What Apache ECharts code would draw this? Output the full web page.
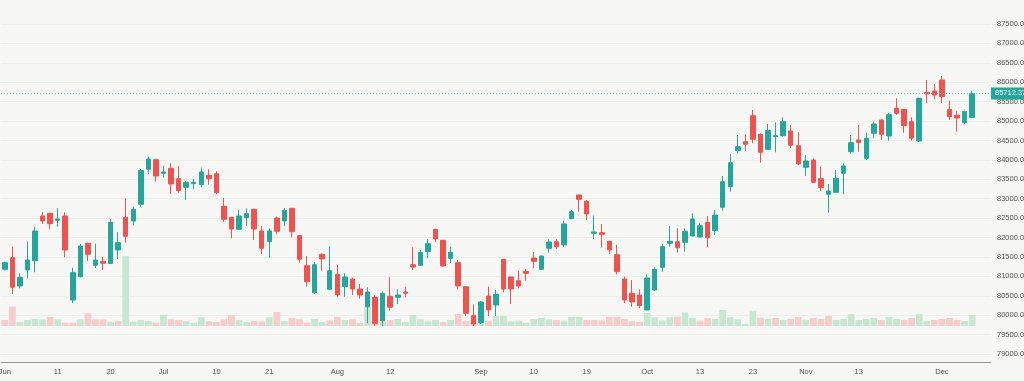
<!DOCTYPE html>
<html><head><meta charset="utf-8">
<script src="https://cdn.jsdelivr.net/npm/echarts@6/dist/echarts.min.js"></script>
<style>html,body{margin:0;padding:0;background:#f7f8f6;}#c{width:1024px;height:381px;}</style>
</head><body><div id="c"></div>
<script>
const dates = [
'06-02','06-03','06-04','06-05','06-06','06-09','06-10','06-11','06-12','06-13','06-16','06-17','06-18','06-19','06-20','06-23','06-24','06-25','06-26','06-27','06-30',
'07-01','07-02','07-03','07-04','07-07','07-08','07-09','07-10','07-11','07-14','07-15','07-16','07-17','07-18','07-21','07-22','07-23','07-24','07-25','07-28','07-29','07-30','07-31',
'08-01','08-04','08-05','08-06','08-07','08-08','08-11','08-12','08-13','08-14','08-18','08-19','08-20','08-21','08-22','08-25','08-26','08-28','08-29',
'09-01','09-02','09-03','09-04','09-05','09-08','09-09','09-10','09-11','09-12','09-15','09-16','09-17','09-18','09-19','09-22','09-23','09-24','09-25','09-26','09-29','09-30',
'10-01','10-03','10-06','10-07','10-08','10-09','10-10','10-13','10-14','10-15','10-16','10-17','10-20','10-21','10-23','10-24','10-27','10-28','10-29','10-30','10-31',
'11-03','11-04','11-06','11-07','11-10','11-11','11-12','11-13','11-14','11-17','11-18','11-19','11-21','11-24','11-25','11-26','11-27','11-28',
'12-01','12-02','12-03','12-04','12-05'];
const open = [81182,81481,80752,81164,81403,82555,82624,82444,82555,80391,80991,81852,81285,81388,81330,81679,82521,82426,82856,83758,84005,
83655,83784,83516,83294,83387,83361,83603,83644,82805,82521,82212,82511,82727,82168,81893,82503,82426,82753,82047,81275,80579,81568,80667,
81053,80734,80932,80674,80218,80461,79858,80486,80461,80597,81300,81285,81635,82212,81929,81465,81352,80734,79987,
79806,80494,80262,81439,80984,80888,81130,81473,81182,81723,81893,81808,82485,83096,82933,82109,82126,81903,81558,80932,80564,80520,
80133,80649,81233,81852,81893,81877,82040,82014,82393,82176,82779,83310,84237,84469,85139,84659,84273,84598,84623,84744,84366,
83809,83997,83516,83114,83165,83655,84211,84513,84041,84685,85028,84616,85329,85303,84984,84487,85741,85775,
86058,85303,85149,84958,85097];
const high = [81380,81764,81079,81893,82279,82658,82640,82753,82650,81223,81834,81867,81841,81506,82478,82143,83011,82794,83766,84082,84015,
83851,83913,83843,83456,83516,83799,83758,83706,83026,82530,82709,82753,82740,82297,82228,82537,82761,82760,82060,81524,81370,81594,81774,
81293,81079,80966,80803,80718,80520,80615,80976,80667,80734,81748,81679,81955,82225,81935,81764,81421,80740,80280,
80365,80734,80649,81450,80990,81146,81190,81628,81530,81955,81955,82434,82709,83100,82967,82563,82349,81910,81816,80991,80906,80667,
81053,81233,81834,82297,82238,82238,82624,82367,82555,82709,83585,84152,84641,84659,85285,84685,84925,84968,85097,84899,84711,
84126,84041,83825,83379,83740,83913,84641,84899,84701,84984,85040,85216,85587,85310,85097,85602,86058,85955,
86161,85525,85252,85268,85782];
const low = [81150,80546,80692,80950,81105,82349,82212,82279,81491,80314,80970,81396,81208,81164,81320,81447,81867,82315,82794,83629,83438,
83541,83122,83155,82967,83243,83294,83361,83114,82408,81980,82200,82297,81937,81576,81481,82083,82297,82006,81352,80734,80546,81146,80660,
80476,80476,80520,80425,79791,79729,79721,80115,80288,80461,81164,81280,81465,81885,81250,81336,80667,79979,79721,
79773,79979,79979,80589,80288,80692,80888,81208,81175,81610,81705,81764,82470,82666,82452,81962,81738,81576,81053,80306,80218,80177,
80125,80623,81120,81764,81610,81635,82030,82000,81748,82065,82691,83181,84170,84229,84428,83928,84265,84196,84598,84299,83869,
83585,83397,83199,82640,83150,83114,84152,84211,83997,84556,84513,84495,85157,84701,84495,84461,85458,85561,
85458,85028,84726,84925,85071];
const close = [81352,80718,80976,81421,82168,82426,82357,82478,81679,81094,81782,81568,81421,81336,82393,81867,82032,82727,83732,84023,83585,
83688,83379,83207,83423,83423,83688,83516,83155,82470,82220,82555,82614,82220,81723,82170,82160,82702,82150,81439,80862,81300,81447,81146,
80520,80984,80674,80520,80597,79791,80564,80203,80520,80564,81241,81620,81841,81962,81267,81620,80752,80048,79773,
80340,80133,80538,80674,80674,80752,81079,81388,81524,81885,81764,82349,82665,82985,82606,82143,82083,81679,81120,80391,80340,80244,
80958,81182,81764,81903,81738,82161,82478,82305,81996,82580,83438,83928,84340,84402,84531,84196,84762,84623,84984,84376,83894,
83972,83423,83284,83199,83526,83843,84443,84450,84556,84925,84659,85164,85200,84881,84556,85587,85698,85672,
85628,85113,85079,85242,85712.37];
const volume = [60,193,40,60,70,67,90,67,33,33,67,127,67,67,43,50,700,43,60,50,33,
113,67,60,50,33,87,47,40,67,107,60,40,50,47,87,140,50,83,67,33,70,40,57,
90,60,67,30,190,50,53,60,70,40,110,67,53,60,40,60,120,50,43,
53,53,100,100,47,53,33,70,80,67,60,53,90,90,60,60,57,92,92,70,48,42,
130,87,56,87,93,137,83,53,77,70,160,87,67,20,153,83,70,80,60,70,90,
60,80,70,100,60,70,120,60,70,80,60,90,70,60,80,120,50,60,
70,80,60,50,110];
const prevClose = 81451;
const lastPrice = 85712.37;
const tickDates = ['06-02','06-11','06-20','07-01','07-10','07-21','08-01','08-12','09-01','09-10','09-19','10-01','10-13','10-23','11-03','11-13','12-01'];
const tickTexts = ['Jun','11','20','Jul','10','21','Aug','12','Sep','10','19','Oct','13','23','Nov','13','Dec'];

const UP = '#26a69a', DOWN = '#ef5350';
const VUP = '#c8e7d3', VDOWN = '#f6cdcd';
const ohlc = dates.map((d, i) => [open[i], close[i], low[i], high[i]]);
const vol = volume.map((v, i) => {
  const pc = i === 0 ? prevClose : close[i - 1];
  return { value: v, itemStyle: { color: close[i] >= pc ? VUP : VDOWN } };
});
const xMax = dates.length + 1;
const chart = echarts.init(document.getElementById('c'), null, { renderer: 'canvas' });
chart.setOption({
  animation: false,
  backgroundColor: '#f7f8f6',
  grid: [
    { left: 1, right: 33, top: 24, bottom: 27, outerBoundsMode: 'none', containLabel: false },
    { left: 1, right: 33, top: 226, height: 100, outerBoundsMode: 'none', containLabel: false }
  ],
  xAxis: [
    { type: 'category', data: dates, max: xMax, boundaryGap: true, offset: 8,
      axisLine: { lineStyle: { color: '#9598a1', width: 1 } },
      axisTick: { show: false },
      splitLine: { show: false },
      axisLabel: {
        interval: (idx, val) => tickDates.indexOf(val) >= 0,
        formatter: (val) => { const k = tickDates.indexOf(val); return k >= 0 ? tickTexts[k] : ''; },
        fontSize: 7.5, color: '#505050', margin: 6, fontFamily: 'Liberation Sans'
      } },
    { type: 'category', data: dates, max: xMax, boundaryGap: true, gridIndex: 1, show: false }
  ],
  yAxis: [
    { type: 'value', position: 'right', min: 79000, max: 87500, interval: 500, scale: true,
      axisLine: { show: false }, axisTick: { show: false },
      splitLine: { lineStyle: { color: '#eceeec', width: 1 } },
      axisLabel: { formatter: (v) => v.toFixed(2), fontSize: 7.5, color: '#505050', margin: 6, fontFamily: 'Liberation Sans' } },
    { type: 'value', gridIndex: 1, min: 0, max: 1000, show: false, splitLine: { show: false } }
  ],
  series: [
    { type: 'bar', xAxisIndex: 1, yAxisIndex: 1, data: vol, barWidth: '90%', z: 1, silent: true },
    { type: 'candlestick', data: ohlc, barWidth: 5, z: 3,
      itemStyle: { color: UP, color0: DOWN, borderColor: UP, borderColor0: DOWN, borderWidth: 1 },
      markLine: { symbol: 'none', silent: true, animation: false,
        data: [{ yAxis: lastPrice }],
        lineStyle: { type: [1, 2], color: '#6fc4bb', width: 1 },
        label: { show: true, position: 'end', distance: 0, formatter: () => lastPrice.toFixed(2),
          backgroundColor: UP, color: '#fff', fontSize: 7.5, padding: [2, 4, 2, 4], fontFamily: 'Liberation Sans' } } }
  ]
});
</script></body></html>
